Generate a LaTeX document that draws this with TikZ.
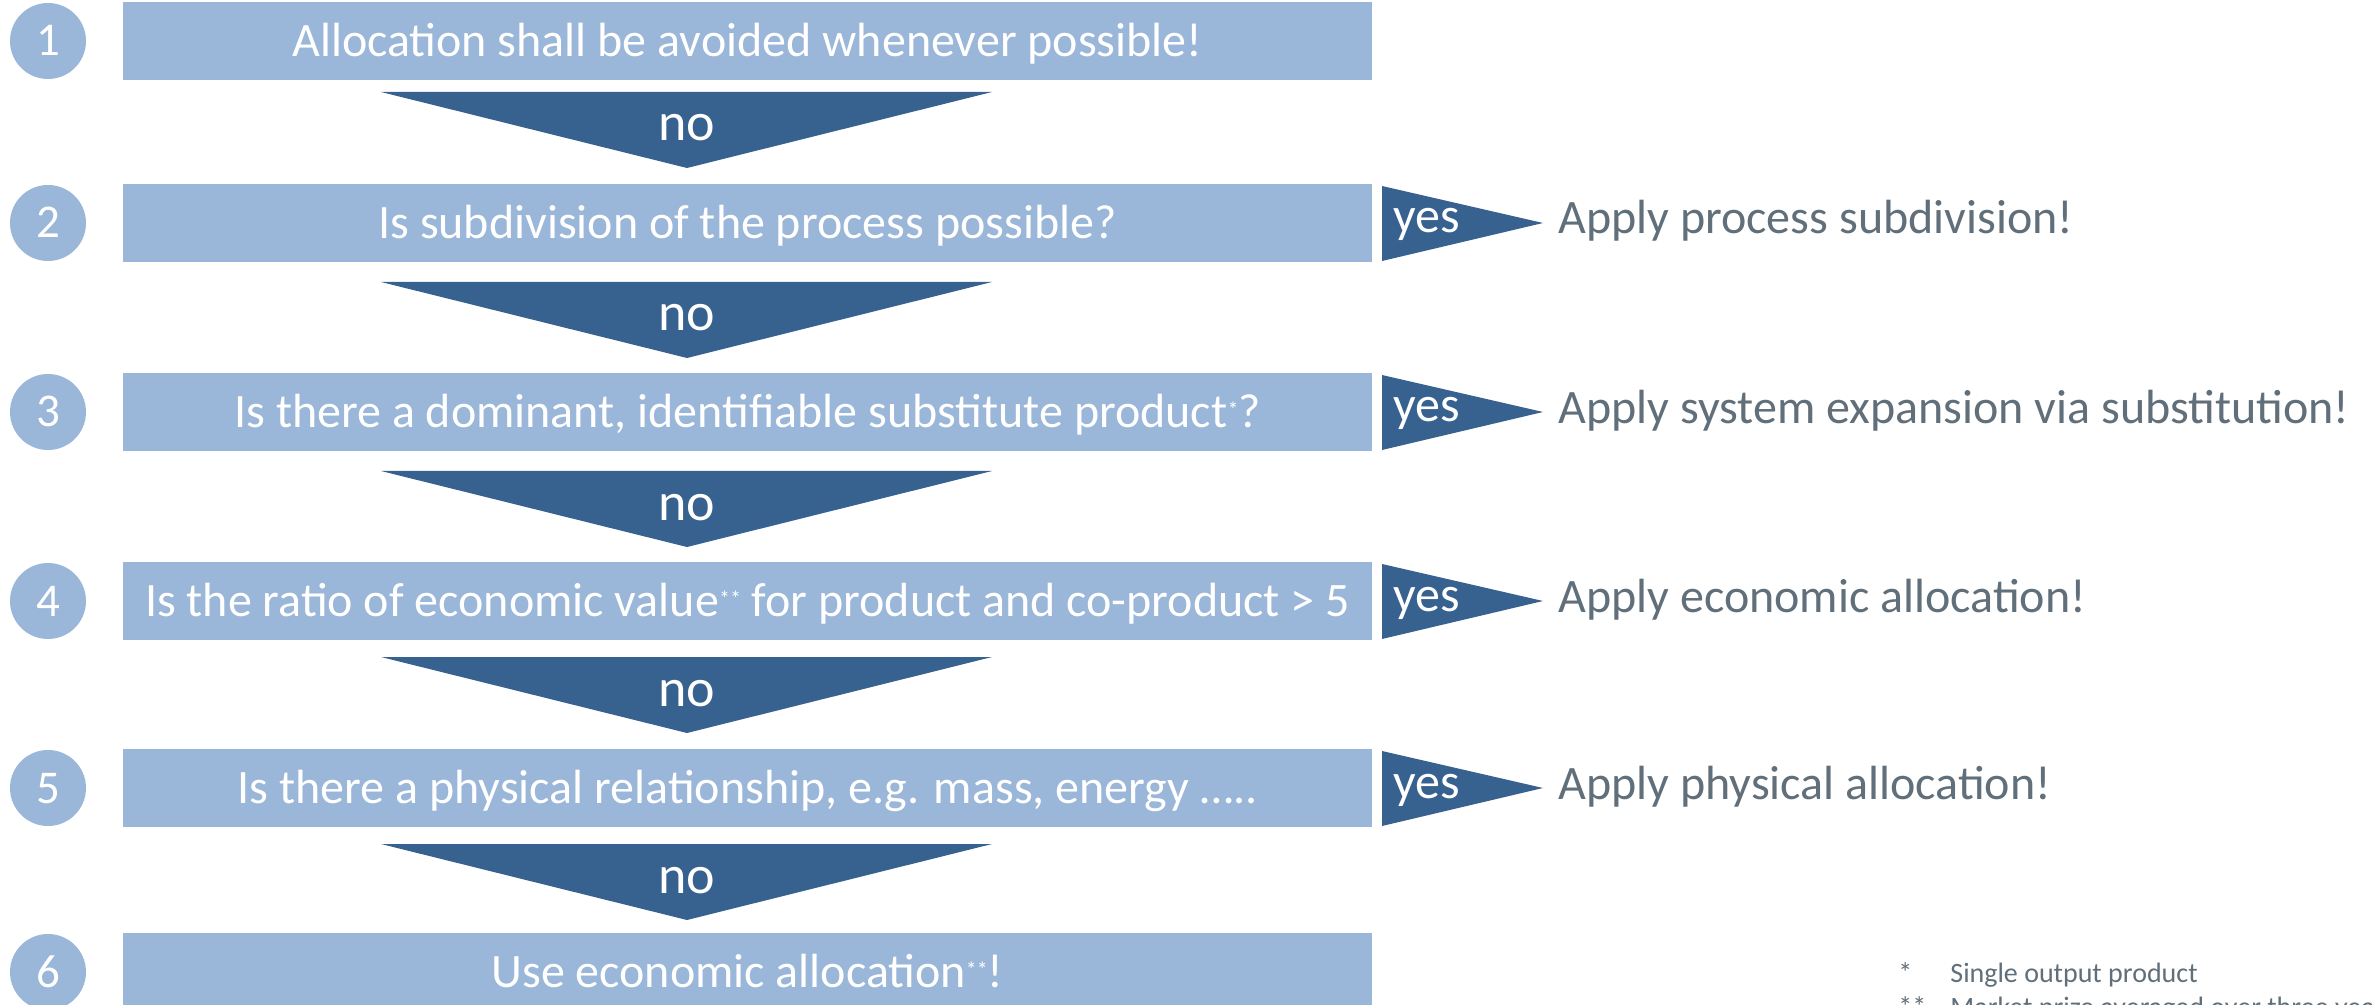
\documentclass[tikz,border=0pt]{standalone}
\usepackage{fontspec}
\setmainfont{Carlito}
\definecolor{lightblue}{HTML}{9AB6D8}
\definecolor{darkblue}{HTML}{37618F}
\definecolor{graytext}{HTML}{606F7A}
\newcommand{\tinystar}[1]{\raisebox{0.45ex}{\fontsize{11}{11}\selectfont #1}}
\begin{document}
\begin{tikzpicture}[x=0.5pt,y=-0.5pt,
  box/.style={fill=lightblue, minimum width=624.5pt, minimum height=39pt, inner sep=0pt,
    text=white, font=\fontsize{24}{28}\selectfont, text height=15.4pt, text depth=0pt},
  num/.style={circle, fill=lightblue, minimum size=38pt, inner sep=0pt,
    text=white, font=\fontsize{23.5}{28}\selectfont, text height=15pt, text depth=0pt},
  notri/.style={fill=darkblue},
  notext/.style={anchor=base, inner sep=0pt, text=white, font=\fontsize{27}{32}\selectfont},
  yestext/.style={anchor=base west, inner sep=0pt, text=white, font=\fontsize{25}{30}\selectfont},
  applytext/.style={anchor=base west, inner sep=0pt, text=graytext, font=\fontsize{24}{28}\selectfont},
  foot/.style={anchor=base west, inner sep=0pt, text=graytext, font=\fontsize{14}{17}\selectfont}
]
\useasboundingbox (0,0) rectangle (2372,1005);
\fill[white] (0,0) rectangle (2372,1005);

% numbered circles
\node[num] (c1) at (48,41) {1};
\node[num] (c2) at (48,223) {2};
\node[num] (c3) at (48,412) {3};
\node[num] (c4) at (48,601) {4};
\node[num] (c5) at (48,788) {5};
\node[num] (c6) at (48,972) {6};

% question boxes
\node[box] (b1) at (747.5,41) {Allocation shall be avoided whenever possible!};
\node[box] (b2) at (747.5,223) {Is subdivision of the process possible?};
\node[box] (b3) at (747.5,412) {Is there a dominant, identifiable substitute product\tinystar{*}?};
\node[box] (b4) at (747.5,601) {Is the ratio of economic value\tinystar{**} for product and co-product > 5};
\node[box] (b5) at (747.5,788) {Is there a physical relationship, e.g. mass, energy …..};
\node[box] (b6) at (747.5,972) {Use economic allocation\tinystar{**}!};

% "no" triangles
\foreach \t [count=\k] in {92,282,471,657,844}{
  \fill[notri] (381,\t) -- (992,\t) -- (687,\t+76) -- cycle;
  \node[notext] (no\k) at (687,\t+49) {no};
}

% "yes" triangles and results
\foreach \c/\txt [count=\k] in {223/{Apply process subdivision!},
                                412/{Apply system expansion via substitution!},
                                601/{Apply economic allocation!},
                                788/{Apply physical allocation!}}{
  \fill[notri] (1382,\c-37) -- (1543,\c) -- (1382,\c+38) -- cycle;
  \node[yestext] (yes\k) at (1393,\c+10) {yes};
  \node[applytext] (ap\k) at (1558,\c+11) {\txt};
}

% footnotes
\node[foot] (f1s) at (1898,982) {*};
\node[foot] (f1) at (1950,982) {Single output product};
\node[foot] (f2s) at (1898,1016) {**};
\node[foot] (f2) at (1950,1016) {Market prize averaged over three years};
\end{tikzpicture}
\end{document}
